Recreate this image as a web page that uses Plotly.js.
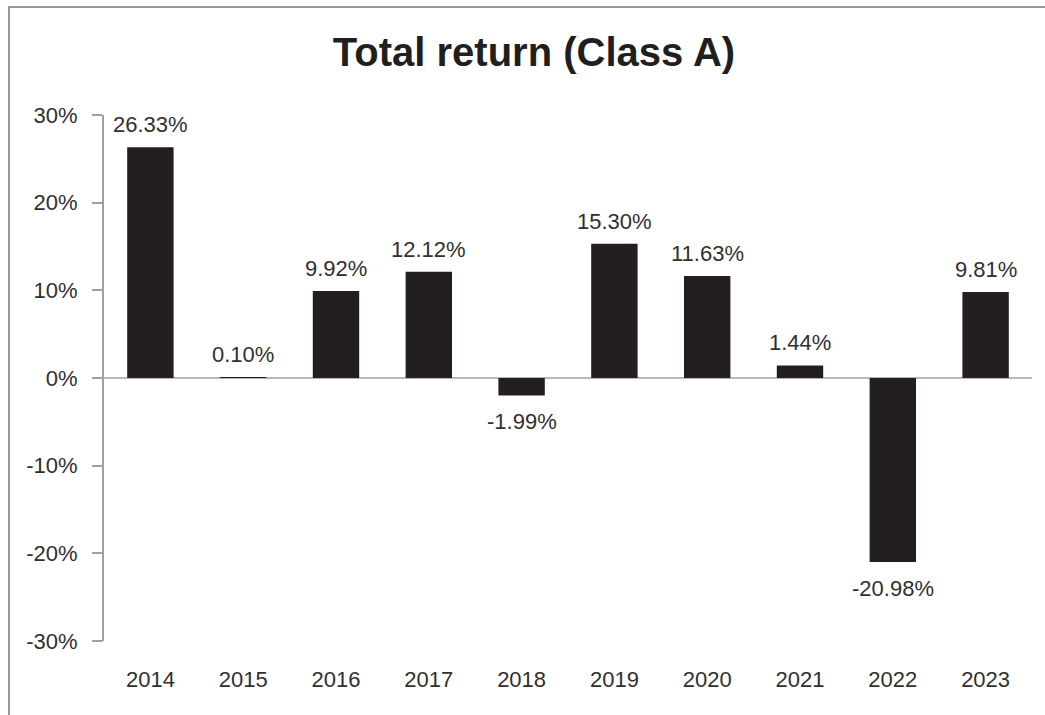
<!DOCTYPE html>
<html>
<head>
<meta charset="utf-8">
<script src="https://cdn.plot.ly/plotly-3.0.1.min.js"></script>
<style>
html,body{margin:0;padding:0;background:#fff;}
#wrap{position:relative;width:1045px;height:715px;overflow:hidden;}
#chart{width:1045px;height:715px;}
#frame{position:absolute;left:8px;top:6px;width:1100px;height:800px;border-top:2px solid #9a9a9a;border-left:2px solid #9a9a9a;pointer-events:none;}
</style>
</head>
<body>
<div id="wrap"><div id="chart"></div><div id="frame"></div></div>
<script>
const years = ["2014","2015","2016","2017","2018","2019","2020","2021","2022","2023"];
const returns = [26.33, 0.10, 9.92, 12.12, -1.99, 15.30, 11.63, 1.44, -20.98, 9.81];
const labels = ["26.33%","0.10%","9.92%","12.12%","-1.99%","15.30%","11.63%","1.44%","-20.98%","9.81%"];
const yTickVals = [-30,-20,-10,0,10,20,30];
const yTickText = ["-30%","-20%","-10%","0%","10%","20%","30%"];

const FONT = "Liberation Sans, Arial, sans-serif";
const TXT = "#303030";

const annotations = years.map((yr,i)=>({
  x: i, y: returns[i], xref:'x', yref:'y',
  text: labels[i], showarrow:false,
  yanchor: returns[i] >= 0 ? 'bottom' : 'top',
  yshift: returns[i] >= 0 ? 8 : -12,
  font:{family:FONT,size:22,color:TXT}
}));

const trace = {
  type:'bar', x: years, y: returns,
  marker:{color:'#231f20'},
  hoverinfo:'skip'
};

const layout = {
  width:1045, height:715,
  margin:{l:104,r:13,t:115,b:74},
  paper_bgcolor:'#ffffff', plot_bgcolor:'#ffffff',
  font:{family:FONT,color:TXT,size:22},
  title:{text:'<b>Total return (Class A)</b>', x:0.511, xanchor:'center', xref:'container', y:0.927, yanchor:'middle', yref:'container',
         font:{family:FONT,size:40,color:'#1f1f1f'}},
  bargap:0.5,
  showlegend:false,
  xaxis:{type:'category', range:[-0.5,9.5], showgrid:false, zeroline:false, showline:false, ticks:'',
         tickfont:{family:FONT,size:22,color:TXT}, ticklabelstandoff:23},
  yaxis:{range:[-30,30], tickvals:yTickVals, ticktext:yTickText, showgrid:false,
         zeroline:true, zerolinecolor:'#b8b8b8', zerolinewidth:2,
         showline:true, linecolor:'#a0a0a0', linewidth:2,
         ticks:'outside', ticklen:10, tickcolor:'#a0a0a0', tickwidth:2,
         ticklabelstandoff:10,
         tickfont:{family:FONT,size:22,color:TXT}},
  annotations: annotations
};

Plotly.newPlot('chart',[trace],layout,{staticPlot:true,displayModeBar:false});
</script>
</body>
</html>
